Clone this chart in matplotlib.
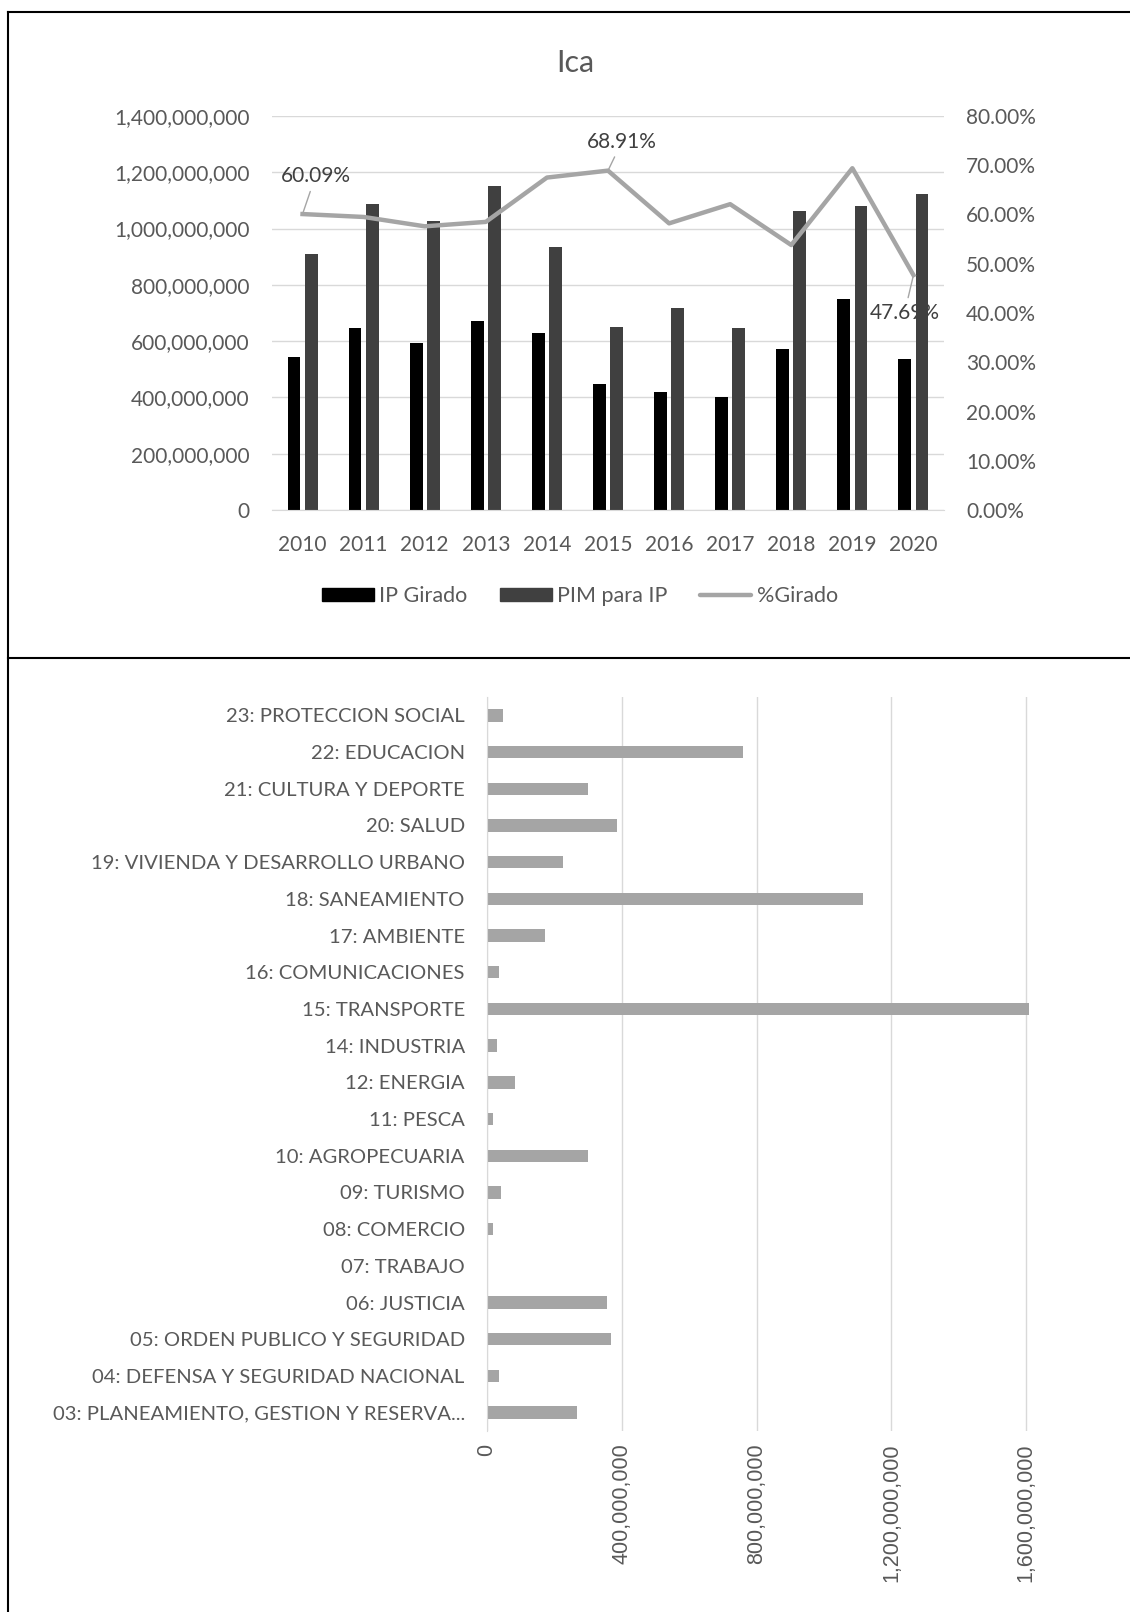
import numpy as np
import matplotlib.pyplot as plt
from matplotlib.lines import Line2D
from matplotlib.patches import Patch
from matplotlib.ticker import FuncFormatter, MultipleLocator

plt.rcParams['font.family'] = ['Lato', 'DejaVu Sans']

# Yearly transfers vs. budget
years = ['2010', '2011', '2012', '2013', '2014', '2015', '2016', '2017', '2018', '2019', '2020']
ip_girado = [544e6, 646e6, 592e6, 673e6, 630e6, 448e6, 418e6, 401e6, 572e6, 749e6, 535e6]
pim_ip = [909e6, 1086e6, 1028e6, 1151e6, 934e6, 650e6, 718e6, 646e6, 1063e6, 1079e6, 1123e6]
pct_girado = [60.09, 59.5, 57.6, 58.5, 67.5, 68.91, 58.2, 62.1, 53.8, 69.4, 47.69]

# Spending by function
funciones = ['23: PROTECCION SOCIAL', '22: EDUCACION', '21: CULTURA Y DEPORTE', '20: SALUD',
             '19: VIVIENDA Y DESARROLLO URBANO', '18: SANEAMIENTO', '17: AMBIENTE',
             '16: COMUNICACIONES', '15: TRANSPORTE', '14: INDUSTRIA', '12: ENERGIA', '11: PESCA',
             '10: AGROPECUARIA', '09: TURISMO', '08: COMERCIO', '07: TRABAJO', '06: JUSTICIA',
             '05: ORDEN PUBLICO Y SEGURIDAD', '04: DEFENSA Y SEGURIDAD NACIONAL',
             '03: PLANEAMIENTO, GESTION Y RESERVA...']
monto = [47e6, 759e6, 301e6, 387e6, 226e6, 1115e6, 173e6, 36e6, 1607e6, 30e6, 83e6, 19e6,
         299e6, 43e6, 17e6, 0, 355e6, 368e6, 36e6, 267e6]

TXT = '#595959'
GRID = '#D9D9D9'
W, H = 1130, 1612

fig = plt.figure(figsize=(W / 100, H / 100), dpi=100)

# frame lines around the two panels
for xs, ys in [([8 / W, 1], [1 - 12 / H] * 2), ([8 / W, 8 / W], [0, 1 - 12 / H]),
               ([8 / W, 1], [1 - 658 / H] * 2)]:
    fig.add_artist(Line2D(xs, ys, color='black', lw=1.5))

# ---- top: bars + percentage line ----
ax = fig.add_axes([272 / W, 1 - 510 / H, 672 / W, 394 / H])
x = np.arange(len(years))
ax.bar(x - 0.14, ip_girado, width=0.21, color='black', zorder=2)
ax.bar(x + 0.14, pim_ip, width=0.21, color='#404040', zorder=2)
ax.set_xlim(-0.5, len(years) - 0.5)
ax.set_ylim(0, 1.4e9)
ax.yaxis.set_major_locator(MultipleLocator(2e8))
ax.yaxis.set_major_formatter(FuncFormatter(lambda v, p: f'{v:,.0f}'))
ax.set_xticks(x)
ax.set_xticklabels(years)
ax.grid(axis='y', color=GRID, lw=1, zorder=0)
for s in ax.spines.values():
    s.set_visible(False)
ax.spines['bottom'].set_visible(True)
ax.spines['bottom'].set_color(GRID)
ax.tick_params(axis='y', length=0, pad=16, labelsize=15, labelcolor=TXT)
ax.tick_params(axis='x', length=0, pad=18, labelsize=15, labelcolor=TXT)

ax2 = ax.twinx()
ax2.plot(x, np.array(pct_girado) / 100, color='#A5A5A5', lw=3.2, zorder=3)
ax2.set_ylim(0, 0.8)
ax2.yaxis.set_major_locator(MultipleLocator(0.1))
ax2.yaxis.set_major_formatter(FuncFormatter(lambda v, p: f'{v * 100:.2f}%'))
for s in ax2.spines.values():
    s.set_visible(False)
ax2.tick_params(axis='y', length=0, pad=16, labelsize=15, labelcolor=TXT)

for i, (dx, dy) in [(0, (13, 38)), (5, (14, 29)), (10, (-9, -38))]:
    ax2.annotate(f'{pct_girado[i]:.2f}%', (x[i], pct_girado[i] / 100),
                 xytext=(dx, dy), textcoords='offset pixels', ha='center', va='center',
                 fontsize=15, color='#404040',
                 arrowprops=dict(arrowstyle='-', color='#A5A5A5', lw=1, shrinkA=2, shrinkB=0))

fig.text(575 / W, 1 - 63 / H, 'Ica', ha='center', va='center', fontsize=22, color=TXT)

handles = [Patch(color='black'), Patch(color='#404040'),
           Line2D([0], [0], color='#A5A5A5', lw=3.2, solid_capstyle='round')]
fig.legend(handles, ['IP Girado', 'PIM para IP', '%Girado'], loc='center',
           bbox_to_anchor=(580 / W, 1 - 596 / H), ncol=3, frameon=False, fontsize=15.5,
           labelcolor=TXT, handlelength=2.4, handleheight=0.6, handletextpad=0.25,
           columnspacing=1.5)

# ---- bottom: horizontal bars by function ----
bx = fig.add_axes([487 / W, 1 - 1431 / H, 1 - 487 / W, 734 / H])
y = np.arange(len(funciones))
bx.barh(y, monto, height=0.34, color='#A5A5A5', zorder=2)
bx.set_ylim(len(funciones) - 0.5, -0.5)
bx.set_xlim(0, 1.908e9)
bx.set_xticks(np.arange(0, 1.7e9, 4e8))
bx.xaxis.set_major_formatter(FuncFormatter(lambda v, p: f'{v:,.0f}'))
bx.set_yticks(y)
bx.set_yticklabels(funciones)
bx.grid(axis='x', color=GRID, lw=1, zorder=0)
for s in bx.spines.values():
    s.set_visible(False)
bx.spines['left'].set_visible(True)
bx.spines['left'].set_color(GRID)
bx.tick_params(axis='y', length=0, pad=16, labelsize=14.6, labelcolor=TXT)
bx.tick_params(axis='x', length=0, pad=9, labelsize=15.5, labelcolor=TXT, labelrotation=90)
for lab in bx.get_xticklabels():
    lab.set_family('Liberation Sans')

fig.savefig('out.png', dpi=100)
